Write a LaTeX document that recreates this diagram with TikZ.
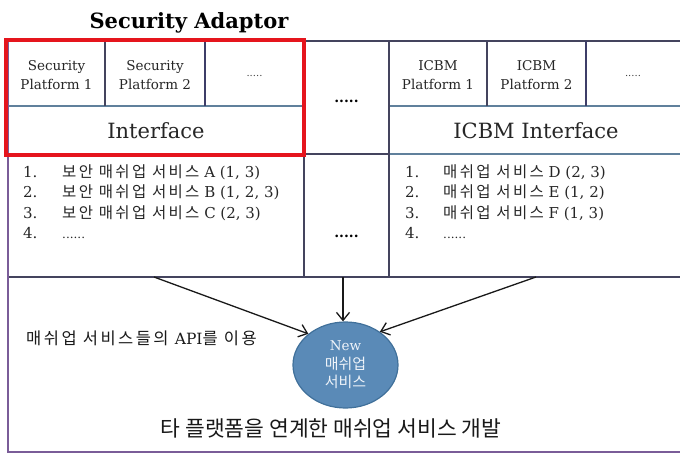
\documentclass[tikz,border=0pt]{standalone}
\usepackage{fontspec}
\setmainfont{DejaVu Serif}
\newfontfamily\kr{Noto Sans CJK KR}
\newfontfamily\krs{Noto Sans CJK KR}[LetterSpace=15]
\usetikzlibrary{shapes.geometric,arrows.meta}
\definecolor{gridc}{HTML}{44445E}
\definecolor{bluec}{HTML}{60809C}
\definecolor{framec}{HTML}{7A5C98}
\definecolor{navyc}{HTML}{3E3E68}
\definecolor{redc}{HTML}{E5151D}
\definecolor{ballc}{HTML}{5A8AB7}
\definecolor{ballline}{HTML}{40709A}
\definecolor{balltext}{HTML}{EEF3F9}
\begin{document}
\begin{tikzpicture}[x=1pt,y=-1pt,
  gridln/.style={draw=gridc,line width=1.4pt},
  bluln/.style={draw=bluec,line width=1.4pt},
  frameln/.style={draw=framec,line width=1.6pt},
  thickln/.style={draw=navyc,line width=2.6pt},
  redbox/.style={draw=redc,line width=3.6pt},
  plat/.style={align=center,inner sep=0pt,font=\fontsize{13.5}{19}\selectfont,text=black!85},
  smalldots/.style={inner sep=0pt,font=\fontsize{10}{12}\selectfont,text=black!75},
  bigdots/.style={inner sep=0pt,anchor=base,font=\bfseries\fontsize{14}{16}\selectfont},
  iface/.style={inner sep=0pt,font=\fontsize{21}{24}\selectfont,text=black!85},
  item/.style={anchor=base west,inner sep=0pt,font=\fontsize{15}{16}\selectfont,text=black!85},
  arr/.style={draw=black!90,line width=1.3pt,-{Straight Barb[length=8pt,width=13pt]}}]
\useasboundingbox (0,0) rectangle (680,458);

% heading of the adaptor block
\node[anchor=base,inner sep=0pt,font=\bfseries\fontsize{21}{24}\selectfont] (title) at (189,28) {Security Adaptor};

% table grid
\draw[gridln] (8,41) -- (690,41);
\draw[bluln] (8,106) -- (304,106);
\draw[bluln] (389,106) -- (690,106);
\draw[bluln] (8,154) -- (690,154);
\draw[gridln] (304,154) -- (389,154);
\draw[gridln] (8,277) -- (690,277);
\draw[gridln] (304,41) -- (304,277);
\draw[gridln] (389,41) -- (389,277);
\draw[gridln] (105,41) -- (105,106);
\draw[thickln] (205,41) -- (205,106);
\draw[gridln] (487,41) -- (487,106);
\draw[thickln] (586,41) -- (586,106);
\draw[frameln] (8,41) -- (8,452) -- (690,452);

% platform cells
\node[plat] (sp1) at (56.5,75) {Security\\Platform 1};
\node[plat] (sp2) at (155,75) {Security\\Platform 2};
\node[smalldots] (spx) at (254.5,76) {.....};
\node[plat] (ip1) at (438,75) {ICBM\\Platform 1};
\node[plat] (ip2) at (536.5,75) {ICBM\\Platform 2};
\node[smalldots] (ipx) at (633,76) {.....};

% interface cells
\node[iface] (sif) at (156,131) {Interface};
\node[iface] (iif) at (536,131) {ICBM Interface};

% middle column
\node[bigdots] (mdot1) at (346.5,102) {.....};
\node[bigdots] (mdot2) at (346.5,237) {.....};

% service lists
\newcommand\ksvc[1]{{\krs\fontsize{15.5}{16}\selectfont #1}}
\node[item] (l1) at (23,177) {\makebox[39pt][l]{1.}\ksvc{보안 매쉬업 서비스} A (1, 3)};
\node[item] (l2) at (23,197.5) {\makebox[39pt][l]{2.}\ksvc{보안 매쉬업 서비스} B (1, 2, 3)};
\node[item] (l3) at (23,218) {\makebox[39pt][l]{3.}\ksvc{보안 매쉬업 서비스} C (2, 3)};
\node[item] (l4) at (23,238.5) {\makebox[39pt][l]{4.}{\fontsize{12}{14}\selectfont ......}};
\node[item] (r1) at (405,177) {\makebox[38pt][l]{1.}\ksvc{매쉬업 서비스} D (2, 3)};
\node[item] (r2) at (405,197.5) {\makebox[38pt][l]{2.}\ksvc{매쉬업 서비스} E (1, 2)};
\node[item] (r3) at (405,218) {\makebox[38pt][l]{3.}\ksvc{매쉬업 서비스} F (1, 3)};
\node[item] (r4) at (405,238.5) {\makebox[38pt][l]{4.}{\fontsize{12}{14}\selectfont ......}};

% new mashup service
\node[ellipse,draw=ballline,line width=1.2pt,fill=ballc,minimum width=105pt,minimum height=86pt,inner sep=0pt,
      align=center,text=balltext,font=\kr\fontsize{15}{18.5}\selectfont] (nw) at (345.5,365)
      {{\rmfamily\fontsize{13.5}{18.5}\selectfont New}\\매쉬업\\서비스};

\node[anchor=west,inner sep=0pt,font=\fontsize{15.5}{18}\selectfont,text=black!90] (api) at (26,338)
      {{\krs\fontsize{16.5}{18}\selectfont 매쉬업 서비스들의 }API{\krs\fontsize{16.5}{18}\selectfont 를 이용}};
\node[inner sep=0pt,font=\kr\fontsize{21.5}{24}\selectfont,text=black!90] (dev) at (331,428)
      {타 플랫폼을 연계한 매쉬업 서비스 개발};

% connectors
\coordinate (a1) at (154,277);
\coordinate (a2) at (343,277);
\coordinate (a3) at (536,277);
\draw[arr] (a1) -- (nw.140);
\draw[arr] (a2) -- (a2 |- nw.north);
\draw[arr] (a3) -- (nw.44);

% highlighted adaptor block
\draw[redbox] (6,40) rectangle (304,155);
\end{tikzpicture}
\end{document}
